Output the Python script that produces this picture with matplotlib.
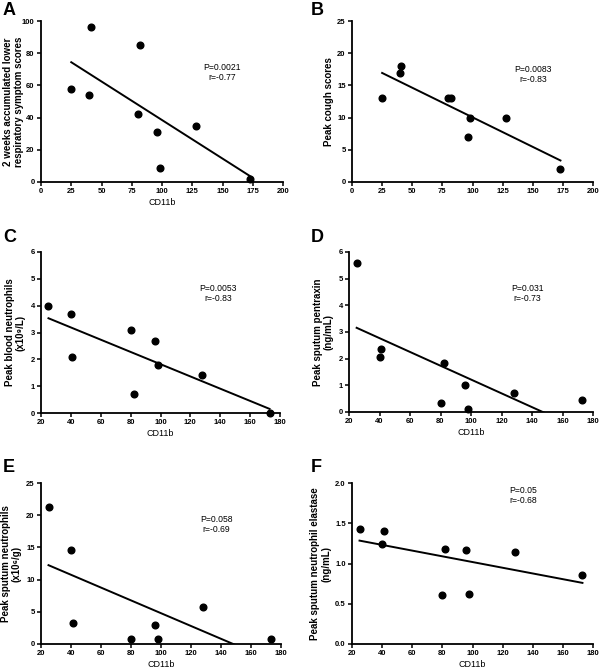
import matplotlib
matplotlib.use('Agg')
import matplotlib.pyplot as plt
import numpy as np

plt.rcParams['font.family'] = ['Liberation Sans', 'DejaVu Sans']

# CD11b values (x) shared by panels; E lacks the subject at 82
cd11b = [25, 40, 41, 80, 82, 96, 98, 128, 173]
cd11b_e = [25, 40, 41, 80, 96, 98, 128, 173]

symptom = [58, 54, 96, 42, 85, 31, 9, 35, 2]
cough = [13, 17, 18, 13, 13, 7, 10, 10, 2]
blood_neut = [4.0, 3.7, 2.1, 3.1, 0.7, 2.7, 1.8, 1.4, 0.0]
pentraxin = [5.6, 2.05, 2.35, 0.33, 1.85, 1.03, 0.12, 0.72, 0.45]
sputum_neut = [21.3, 14.6, 3.3, 0.7, 2.9, 0.8, 5.8, 0.7]
elastase = [1.43, 1.24, 1.40, 0.61, 1.18, 1.17, 0.62, 1.14, 0.86]

stats = ["P=0.0021\nr=-0.77", "P=0.0083\nr=-0.83", "P=0.0053\nr=-0.83",
         "P=0.031\nr=-0.73", "P=0.058\nr=-0.69", "P=0.05\nr=-0.68"]

W, H = 600, 670
fig = plt.figure(figsize=(W / 100, H / 100), dpi=100)


def px_axes(l, t, r, b):
    return fig.add_axes([l / W, 1 - b / H, (r - l) / W, (b - t) / H])


panels = [
    # letter, box(l,t,r,b), x, y, xlim, xticks, ylim, yticks, ylabel, ylabel right px, xlabel, stat pos
    ("A", (41, 21, 283, 182), cd11b, symptom, (0, 200), range(0, 201, 25),
     (0, 100), range(0, 101, 20), "2 weeks accumulated lower\nrespiratory symptom scores", 24, True, (0.75, 0.68)),
    ("B", (352, 21, 593, 182), cd11b, cough, (0, 200), range(0, 201, 25),
     (0, 25), range(0, 26, 5), "Peak cough scores", 334, False, (0.75, 0.67)),
    ("C", (41, 252, 280, 413), cd11b, blood_neut, (20, 180), range(20, 181, 20),
     (0, 6), range(0, 7), "Peak blood neutrophils\n(x10\u2079/L)", 26, True, (0.74, 0.745)),
    ("D", (349, 252, 593, 412), cd11b, pentraxin, (20, 180), range(20, 181, 20),
     (0, 6), range(0, 7), "Peak sputum pentraxin\n(ng/mL)", 334, True, (0.73, 0.74)),
    ("E", (41, 483, 281, 644), cd11b_e, sputum_neut, (20, 180), range(20, 181, 20),
     (0, 25), range(0, 26, 5), "Peak sputum neutrophils\n(x10\u2076/g)", 22, True, (0.73, 0.74)),
    ("F", (352, 483, 593, 644), cd11b, elastase, (20, 180), range(20, 181, 20),
     (0, 2), np.arange(0, 2.01, 0.5), "Peak sputum neutrophil elastase\n(ng/mL)", 331, True, (0.71, 0.925)),
]

for i, (letter, box, x, y, xlim, xt, ylim, yt, ylab, ylx, has_xl, spos) in enumerate(panels):
    ax = px_axes(*box)
    x = np.array(x, float)
    y = np.array(y, float)
    ax.plot(x, y, 'o', color='black', markersize=4.8, clip_on=False, zorder=3)
    k, c = np.polyfit(x, y, 1)
    xs = np.array([x.min(), x.max()])
    ax.plot(xs, k * xs + c, color='black', lw=1.4)
    ax.set_xlim(*xlim)
    ax.set_ylim(*ylim)
    ax.set_xticks(list(xt))
    ax.set_yticks(list(yt))
    if letter == "F":
        ax.set_yticklabels([f"{v:.1f}" for v in yt])
    for s in ['top', 'right']:
        ax.spines[s].set_visible(False)
    for s in ['left', 'bottom']:
        ax.spines[s].set_linewidth(1.3)
    ax.tick_params(direction='out', length=3, width=1.1, labelsize=5.5, pad=1.5)
    for lab in ax.get_xticklabels() + ax.get_yticklabels():
        lab.set_fontweight('bold')
    ax.set_ylabel(ylab, fontsize=7, fontweight='bold', linespacing=1.1)
    ax.yaxis.set_label_coords((ylx - box[0]) / (box[2] - box[0]), 0.5)
    if has_xl:
        ax.set_xlabel("CD11b", fontsize=6.5, labelpad=2)
    ax.text(spos[0], spos[1], stats[i], transform=ax.transAxes, ha='center',
            va='center', fontsize=6.2, linespacing=1.15)
    lx = 3 if box[0] < 300 else 311
    ly = {21: 2, 252: 229, 483: 459}[box[1]]
    fig.text(lx / W, 1 - ly / H, letter, fontsize=13, fontweight='bold',
             ha='left', va='top')

fig.savefig('out.png', dpi=100)
